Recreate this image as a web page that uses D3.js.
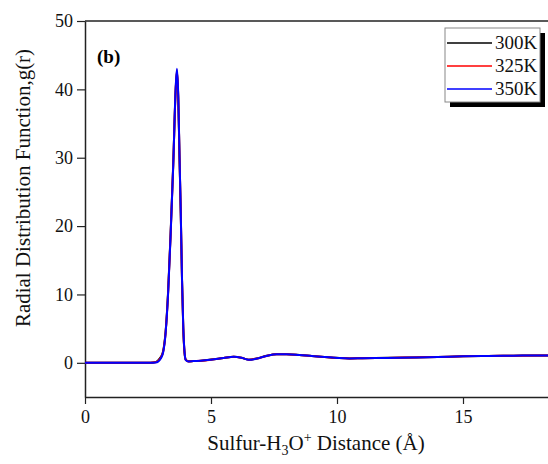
<!DOCTYPE html>
<html>
<head>
<meta charset="utf-8">
<script src="https://cdn.jsdelivr.net/npm/d3@7"></script>
<style>
  body { margin: 0; background: #fff; }
  svg text { font-family: "Liberation Serif", "Times New Roman", serif; }
</style>
</head>
<body>
<svg width="548" height="464"></svg>
<script>
// data
var r = [0, 1, 2, 2.6, 2.8, 2.9, 3.0, 3.1, 3.2, 3.3, 3.4, 3.5, 3.6, 3.65, 3.7, 3.75, 3.8, 3.85, 3.9, 3.95, 4.0, 4.1, 4.3, 4.6, 5.0, 5.5, 5.9, 6.2, 6.5, 6.8, 7.2, 7.6, 8.0, 8.5, 9.0, 9.5, 10.0, 10.5, 11, 12, 13, 14, 15, 16, 17, 18, 19, 20];
var g300 = [0, 0, 0, 0.02, 0.1, 0.35, 0.8, 1.7, 4.6, 10.6, 19.2, 29.0, 40.0, 42.6, 38.8, 30.0, 21.8, 12.0, 5.0, 1.5, 0.45, 0.22, 0.26, 0.32, 0.47, 0.72, 0.9, 0.76, 0.46, 0.62, 1.02, 1.27, 1.26, 1.16, 1.0, 0.86, 0.73, 0.65, 0.68, 0.73, 0.79, 0.86, 0.95, 1.0, 1.04, 1.08, 1.1, 1.1];
var g325 = [0, 0, 0, 0.01, 0.07, 0.25, 0.7, 1.6, 4.5, 10.4, 19.0, 28.8, 40.2, 42.8, 39.0, 30.2, 22.0, 12.2, 5.1, 1.5, 0.42, 0.2, 0.25, 0.31, 0.46, 0.71, 0.89, 0.75, 0.45, 0.61, 1.01, 1.26, 1.27, 1.15, 1.01, 0.85, 0.72, 0.64, 0.68, 0.72, 0.79, 0.86, 0.96, 1.0, 1.05, 1.08, 1.1, 1.1];
var g350 = [0, 0, 0, 0.01, 0.05, 0.18, 0.6, 1.5, 4.4, 10.3, 18.9, 28.7, 40.4, 43.0, 39.2, 30.4, 22.1, 12.3, 5.2, 1.6, 0.4, 0.2, 0.25, 0.3, 0.45, 0.7, 0.88, 0.75, 0.44, 0.6, 1.0, 1.25, 1.25, 1.14, 1.0, 0.85, 0.72, 0.64, 0.67, 0.72, 0.78, 0.85, 0.95, 1.0, 1.04, 1.08, 1.1, 1.1];
var seriesNames = ["300K", "325K", "350K"];
var seriesColors = ["#000000", "#ff0000", "#0000ff"];
var xTicks = [0, 5, 10, 15];
var yTicks = [0, 10, 20, 30, 40, 50];

var serif = "Liberation Serif";
var svg = d3.select("svg");

var x = d3.scaleLinear().domain([0, 20]).range([85, 589]);
var y = d3.scaleLinear().domain([-5, 50]).range([397, 21]);

// frame: top border
svg.append("line")
  .attr("x1", 85).attr("x2", 548)
  .attr("y1", 21).attr("y2", 21)
  .attr("stroke", "#222").attr("stroke-width", 1.5);

// axes
var xAxis = svg.append("g")
  .attr("transform", "translate(0,397)")
  .call(d3.axisBottom(x).tickValues(xTicks).tickSize(7).tickSizeOuter(0).tickPadding(6));
var yAxis = svg.append("g")
  .attr("transform", "translate(85,0)")
  .call(d3.axisLeft(y).tickValues(yTicks).tickSize(8).tickSizeOuter(0).tickPadding(4));

[xAxis, yAxis].forEach(function(a) {
  a.attr("font-family", serif).attr("font-size", 18);
  a.select(".domain").attr("stroke", "#222").attr("stroke-width", 1.5);
  a.selectAll(".tick line").attr("stroke", "#222").attr("stroke-width", 1.2);
  a.selectAll(".tick text")
    .attr("fill", "#111")
    .attr("font-family", serif)
    .attr("font-size", 18);
});

// curves
var all = [g300, g325, g350];
var line = d3.line()
  .x(function(d, i) { return x(r[i]); })
  .y(function(d) { return y(d); })
  .curve(d3.curveMonotoneX);

all.forEach(function(s, k) {
  svg.append("path")
    .datum(s)
    .attr("d", line)
    .attr("fill", "none")
    .attr("stroke", seriesColors[k])
    .attr("stroke-width", 2);
});

// panel label
svg.append("text")
  .attr("x", 97).attr("y", 63)
  .attr("font-family", serif)
  .attr("font-size", 19).attr("font-weight", "bold")
  .text("(b)");

// legend
var lg = svg.append("g");
lg.append("rect")
  .attr("x", 450).attr("y", 33).attr("width", 95).attr("height", 74)
  .attr("fill", "#000");
lg.append("rect")
  .attr("x", 445).attr("y", 28).attr("width", 95).attr("height", 74)
  .attr("fill", "#fff").attr("stroke", "#888").attr("stroke-width", 1);
seriesNames.forEach(function(n, k) {
  var yy = 43 + k * 23;
  lg.append("line")
    .attr("x1", 447).attr("x2", 492)
    .attr("y1", yy).attr("y2", yy)
    .attr("stroke", seriesColors[k]).attr("stroke-width", 1.5);
  lg.append("text")
    .attr("x", 495).attr("y", yy + 6)
    .attr("font-family", serif)
    .attr("font-size", 19)
    .attr("fill", "#111")
    .text(n);
});

// axis titles
var xt = svg.append("text")
  .attr("x", 316).attr("y", 450)
  .attr("text-anchor", "middle")
  .attr("font-family", serif)
  .attr("font-size", 21)
  .attr("fill", "#111");
xt.append("tspan").text("Sulfur-H");
xt.append("tspan").attr("dy", 5).attr("font-size", 14).text("3");
xt.append("tspan").attr("dy", -5).text("O");
xt.append("tspan").attr("dy", -8).attr("font-size", 14).text("+");
xt.append("tspan").attr("dy", 8).text(" Distance (Å)");

svg.append("text")
  .attr("transform", "translate(30,188) rotate(-90)")
  .attr("text-anchor", "middle")
  .attr("font-family", serif)
  .attr("font-size", 21)
  .attr("fill", "#111")
  .text("Radial Distribution Function,g(r)");
</script>
</body>
</html>
